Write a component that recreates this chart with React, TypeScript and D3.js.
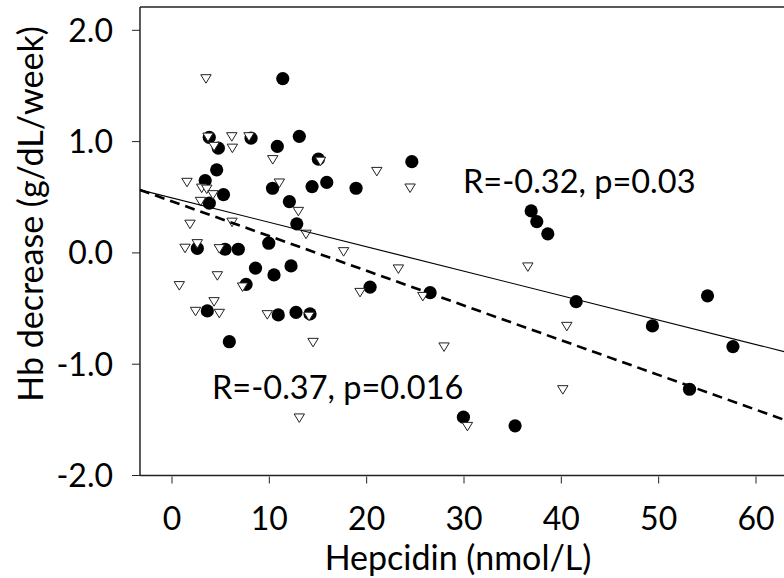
import { useEffect } from "react";
import * as d3 from "d3";

// filled circles: [hepcidin, Hb decrease]
const circleHepcidin = [
  11.38, 3.83, 4.76, 8.12, 10.82, 13.08, 15.04, 4.59, 3.41, 5.29, 3.83, 10.33,
  14.39, 15.9, 12.06, 12.82, 18.91, 24.64, 2.6, 5.45, 6.81, 9.94, 8.58, 10.48,
  12.23, 7.61, 3.63, 10.92, 12.74, 14.18, 5.89, 20.35, 26.52, 36.9, 37.48,
  38.61, 41.52, 55.02, 49.36, 57.63, 53.17, 29.94, 35.25,
];
const circleHb = [
  1.566, 1.038, 0.941, 1.031, 0.957, 1.047, 0.842, 0.746, 0.65, 0.524, 0.447,
  0.581, 0.596, 0.633, 0.461, 0.261, 0.581, 0.82, 0.04, 0.033, 0.033, 0.087,
  -0.137, -0.198, -0.117, -0.283, -0.521, -0.557, -0.535, -0.548, -0.798,
  -0.308, -0.357, 0.377, 0.281, 0.171, -0.438, -0.386, -0.656, -0.842, -1.225,
  -1.476, -1.554,
];

// open triangles
const triHepcidin = [
  3.49, 3.7, 4.32, 6.14, 6.2, 7.91, 10.35, 15.26, 1.54, 3.05, 3.57, 4.21, 2.93,
  1.85, 6.17, 11.03, 12.98, 13.77, 1.34, 2.6, 4.86, 17.63, 21.04, 24.46, 4.66,
  0.75, 7.25, 4.32, 2.42, 4.86, 9.79, 14.08, 14.49, 19.32, 23.26, 25.77, 27.95,
  13.08, 30.35, 36.56, 40.56, 40.15,
];
const triHb = [
  1.563, 1.038, 0.955, 1.042, 0.939, 1.042, 0.836, 0.822, 0.632, 0.58, 0.571,
  0.521, 0.461, 0.256, 0.274, 0.626, 0.371, 0.166, 0.04, 0.081, 0.036, 0.009,
  0.73, 0.581, -0.207, -0.296, -0.308, -0.44, -0.527, -0.545, -0.557, -0.571,
  -0.806, -0.357, -0.146, -0.393, -0.847, -1.485, -1.561, -0.128, -0.662,
  -1.231,
];

// regression lines: intercept, slope
const solidFit = [0.494, -0.02195];
const dashedFit = [0.463, -0.0312];

const xTicks = [0, 10, 20, 30, 40, 50, 60];
const yTicks = [-2, -1, 0, 1, 2];
const xDomain = [-3.29, 63.5];
const yDomain = [-2, 2.21];

const font = "Lato, 'Open Sans', sans-serif";

export default function App() {
  useEffect(() => {
    document.body.style.margin = "0";
  }, []);

  const x = d3.scaleLinear().domain([0, 60]).range([172, 756]);
  const y = d3.scaleLinear().domain([-2, 2]).range([475.5, 30.3]);

  const left = x(xDomain[0]);
  const right = x(xDomain[1]);
  const top = y(yDomain[1]);
  const bottom = y(yDomain[0]);

  const fitLine = (fit: number[]) =>
    d3
      .line<number>()
      .x((d) => x(d))
      .y((d) => y(fit[0] + fit[1] * d))([xDomain[0], xDomain[1]]) as string;

  const tri = (cx: number, cy: number) => {
    const w = 5.2;
    const h = 8.5;
    return `M${cx - w},${cy - h / 2}L${cx + w},${cy - h / 2}L${cx},${cy + h / 2}Z`;
  };

  return (
    <svg width={784} height={578} style={{ display: "block", background: "#fff" }}>
      <defs>
        <clipPath id="plot">
          <rect x={left} y={top} width={right - left} height={bottom - top} />
        </clipPath>
      </defs>

      {/* frame */}
      <line x1={left} x2={right} y1={top} y2={top} stroke="#222" strokeWidth={1.5} />
      <line x1={left} x2={right} y1={bottom} y2={bottom} stroke="#222" strokeWidth={1.5} />
      <line x1={left} x2={left} y1={top} y2={bottom} stroke="#222" strokeWidth={1.5} />

      {/* y axis */}
      {yTicks.map((t) => (
        <g key={"y" + t}>
          <line x1={left - 8} x2={left} y1={y(t)} y2={y(t)} stroke="#222" strokeWidth={1} />
          <text
            x={113}
            y={y(t)}
            dy="0.36em"
            textAnchor="end"
            fontFamily={font}
            fontSize={32}
            fill="#000"
          >
            {d3.format(".1f")(t).replace("−", "-")}
          </text>
        </g>
      ))}

      {/* x axis */}
      {xTicks.map((t) => (
        <g key={"x" + t}>
          <line x1={x(t)} x2={x(t)} y1={bottom + 1} y2={bottom + 8} stroke="#222" strokeWidth={1} />
          <text
            x={x(t)}
            y={530}
            textAnchor="middle"
            fontFamily={font}
            fontSize={32}
            fill="#000"
          >
            {t}
          </text>
        </g>
      ))}

      <text
        x={458}
        y={570}
        textAnchor="middle"
        fontFamily={font}
        fontSize={34}
        fill="#000"
      >
        Hepcidin (nmol/L)
      </text>
      <text
        transform={`translate(43,${214}) rotate(-90)`}
        textAnchor="middle"
        fontFamily={font}
        fontSize={34}
        fill="#000"
      >
        Hb decrease (g/dL/week)
      </text>

      <g clipPath="url(#plot)">
        {circleHepcidin.map((h, i) => (
          <circle key={"c" + i} cx={x(h)} cy={y(circleHb[i])} r={6.6} fill="#000" />
        ))}
        {triHepcidin.map((h, i) => (
          <path
            key={"t" + i}
            d={tri(x(h), y(triHb[i]))}
            fill="#fff"
            stroke="#222"
            strokeWidth={1}
          />
        ))}
        <path d={fitLine(solidFit)} fill="none" stroke="#000" strokeWidth={1.2} />
        <path
          d={fitLine(dashedFit)}
          fill="none"
          stroke="#000"
          strokeWidth={2.6}
          strokeDasharray="10,6"
        />
      </g>

      <text x={463} y={193} fontFamily={font} fontSize={32.5} fill="#000">
        R=-0.32, p=0.03
      </text>
      <text x={212} y={399} fontFamily={font} fontSize={32.5} fill="#000">
        R=-0.37, p=0.016
      </text>
    </svg>
  );
}
